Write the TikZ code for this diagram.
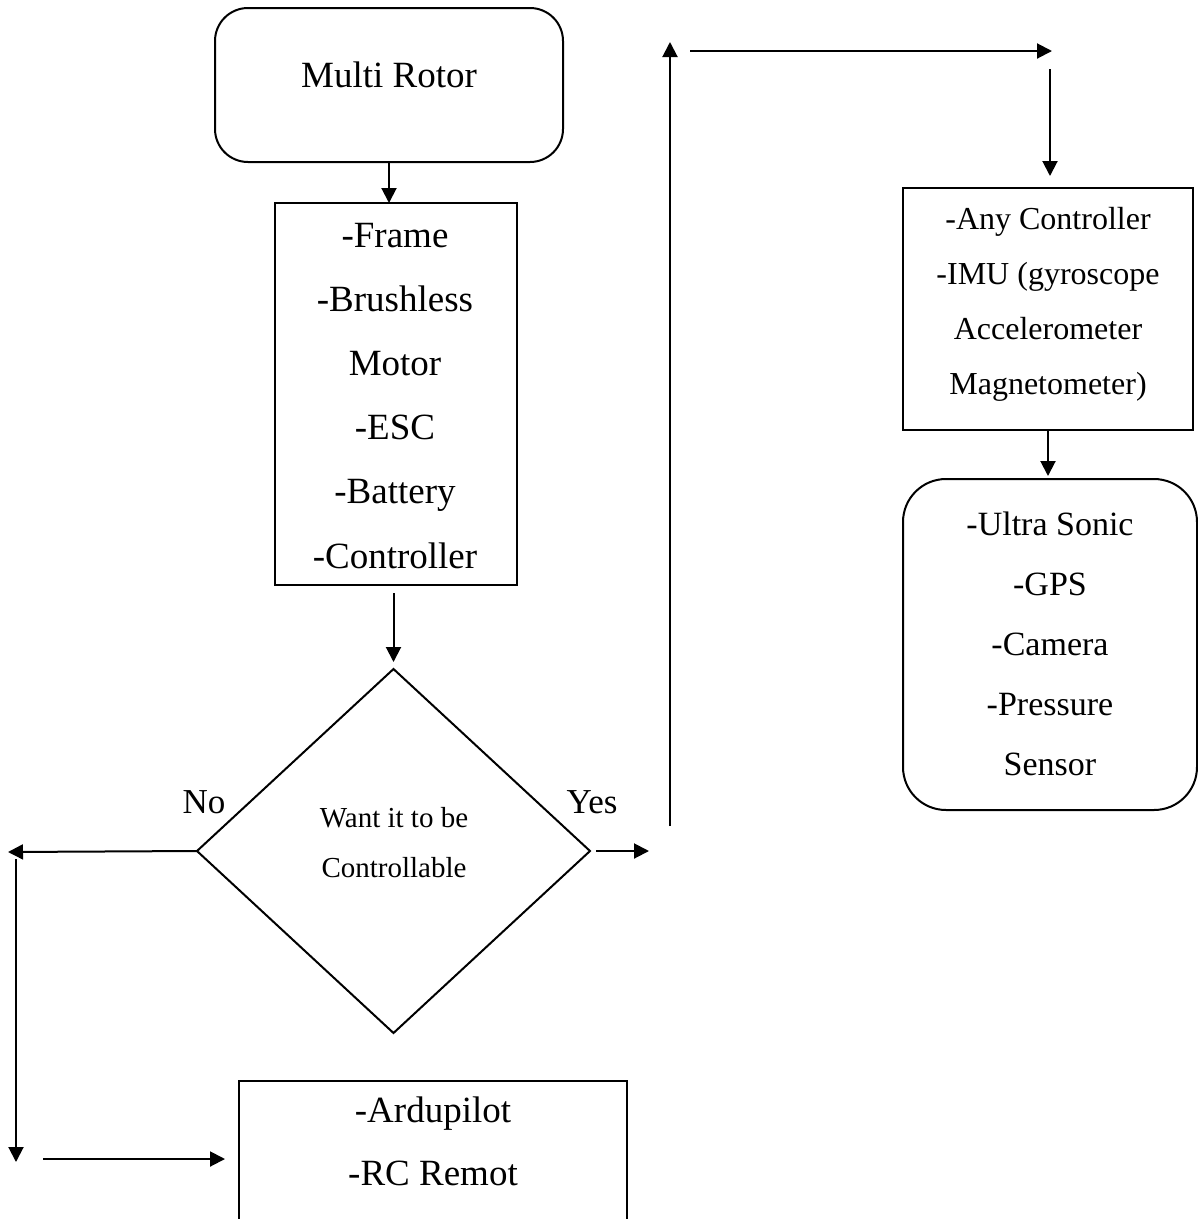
\documentclass[tikz,border=0pt]{standalone}
\usepackage{fontspec}
\setmainfont{Liberation Serif}
\usetikzlibrary{arrows.meta,shapes.geometric}
\begin{document}
\begin{tikzpicture}[x=1pt,y=-1pt,
  outline/.style={draw, line width=2pt, inner sep=0pt, outer sep=0pt},
  flow/.style={line width=2pt, -{Triangle[length=15pt,width=15pt]}},
  big/.style={inner sep=0pt, anchor=base, font=\fontsize{37}{44}\selectfont},
  mid/.style={inner sep=0pt, anchor=base, font=\fontsize{32}{38}\selectfont},
  sens/.style={inner sep=0pt, anchor=base, font=\fontsize{34}{40}\selectfont},
  small/.style={inner sep=0pt, anchor=base, font=\fontsize{29}{34}\selectfont},
  answer/.style={inner sep=0pt, anchor=base, font=\fontsize{35}{42}\selectfont}]
\clip (0,0) rectangle (1198,1219);
\fill[white] (0,0) rectangle (1198,1219);

% boxes
\node[outline, rounded corners=33pt, minimum width=348pt, minimum height=154pt] (mr) at (389,85) {};
\node[outline, minimum width=242pt, minimum height=382pt] (fr) at (396,394) {};
\node[outline, diamond, minimum width=393pt, minimum height=364pt] (dia) at (393.5,851) {};
\node[outline, minimum width=388pt, minimum height=260pt, anchor=north] (rc) at (433,1081) {};
\node[outline, minimum width=290pt, minimum height=242pt] (ac) at (1048,309) {};
\node[outline, rounded corners=43pt, minimum width=294pt, minimum height=331pt] (sn) at (1050,644.5) {};

% texts
\node[big] (mrt) at (389,87) {Multi Rotor};
\foreach \t [count=\i from 0] in {-Frame,-Brushless,Motor,-ESC,-Battery,-Controller}
  \node[big] (frt\i) at (395,{247+64.2*\i}) {\t};
\node[small] (dia1) at (394,827) {Want it to be};
\node[small] (dia2) at (394,877) {Controllable};
\node[answer] (no) at (204,813) {No};
\node[answer] (yes) at (592,813) {Yes};
\node[big] (rc1) at (433,1122) {-Ardupilot};
\node[big] (rc2) at (433,1185) {-RC Remot};
\foreach \t [count=\i from 0] in {-Any Controller,-IMU (gyroscope,Accelerometer,Magnetometer)}
  \node[mid] (act\i) at (1048,{229+55*\i}) {\t};
\foreach \t [count=\i from 0] in {-Ultra Sonic,-GPS,-Camera,-Pressure,Sensor}
  \node[sens] (snt\i) at (1050,{535+60*\i}) {\t};

% free ends of the connectors
\coordinate (noEnd) at (8,852);
\coordinate (downTop) at (16,859);
\coordinate (downEnd) at (16,1162);
\coordinate (inStart) at (43,1159);
\coordinate (yesEnd) at (649,851);
\coordinate (upBot) at (670,826);
\coordinate (upTop) at (670,42);
\coordinate (topStart) at (690,51);
\coordinate (topEnd) at (1052,51);
\coordinate (dnStart) at (1050,69);

% connectors
\draw[flow] (mr.south) -- (mr.south |- fr.north);
\draw[flow, shorten <=8pt, shorten >=7pt] (dia.north |- fr.south) -- (dia.north);
\draw[flow] (dia.west) -- (noEnd);
\draw[flow] (downTop) -- (downEnd);
\draw[flow, shorten >=14pt] (inStart) -- (rc.west |- inStart);
\draw[flow, shorten <=6pt] (dia.east) -- (yesEnd);
\draw[flow] (upBot) -- (upTop);
\draw[flow] (topStart) -- (topEnd);
\draw[flow, shorten >=12pt] (dnStart) -- (dnStart |- ac.north);
\draw[flow, shorten >=3pt] (ac.south) -- (ac.south |- sn.north);
\end{tikzpicture}
\end{document}
